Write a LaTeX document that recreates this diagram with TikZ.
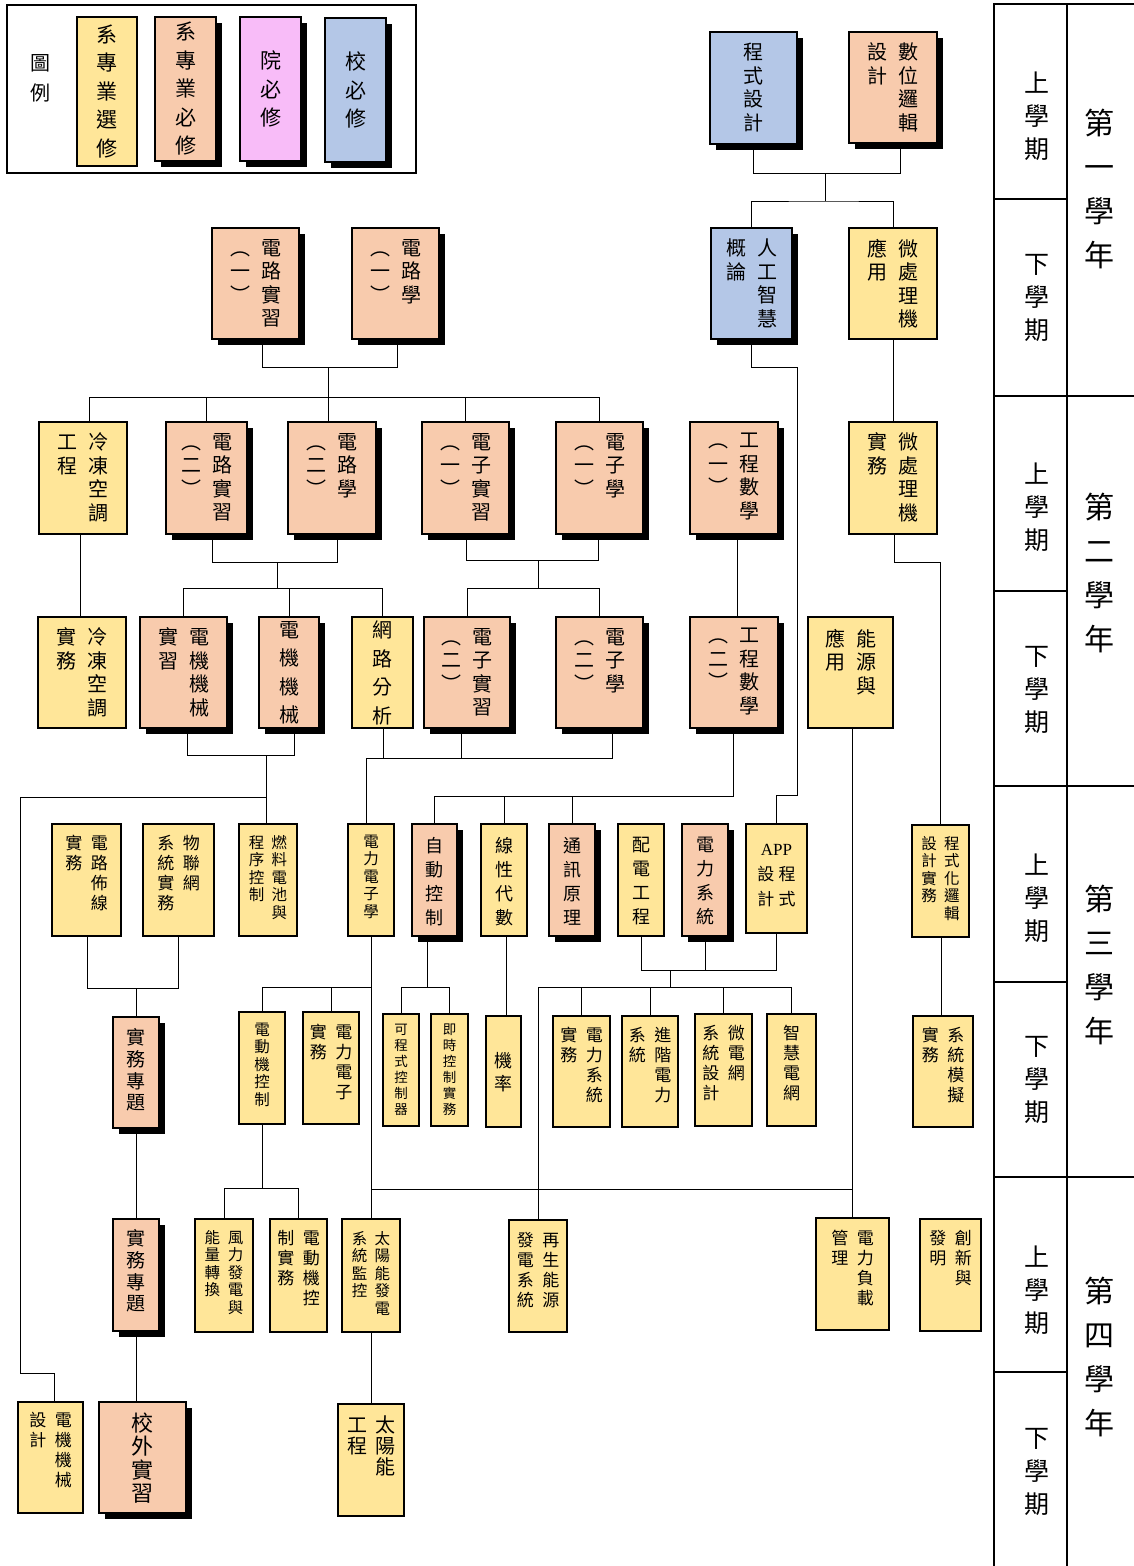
\documentclass[tikz,border=0pt]{standalone}
\usepackage{fontspec}
\setmainfont{Liberation Serif}
\newfontfamily\cjk{Noto Sans CJK TC}
\usetikzlibrary{backgrounds,shadows}
\definecolor{cY}{RGB}{255,230,153}
\definecolor{cO}{RGB}{248,203,173}
\definecolor{cB}{RGB}{180,199,231}
\definecolor{cP}{RGB}{248,188,248}
\makeatletter
\newcommand\vcol[1]{\vtop{\@tfor\vc@ch:=#1\do{\hbox to 1em{\hss\vc@ch\hss}}}}
\makeatother
\newcommand\two[3][0.55em]{\vcol{#3}\hskip#1\relax\vcol{#2}}
\newcommand\bx[3]{\vbox to #1pt{\vskip #2pt\hbox{#3}\vss}}
\tikzset{
  box/.style={draw=black, line width=1.4pt, inner sep=0pt, font=\cjk},
  shd/.style={general shadow={fill=black, shadow xshift=6pt, shadow yshift=-6pt}},
  yel/.style={box, fill=cY},
  org/.style={box, fill=cO, shd},
  blu/.style={box, fill=cB, shd},
  pnk/.style={box, fill=cP, shd},
  bw/.style={minimum width=#1pt},
  fA/.style={font=\cjk\fontsize{20}{23.5}\selectfont},
  fB/.style={font=\cjk\fontsize{17}{20}\selectfont},
  fC/.style={font=\cjk\fontsize{15.5}{17.5}\selectfont},
  fD/.style={font=\cjk\fontsize{13.5}{16}\selectfont},
  fE/.style={font=\cjk\fontsize{18}{24}\selectfont},
  fW/.style={font=\cjk\fontsize{20}{28.5}\selectfont},
  fP/.style={font=\cjk\fontsize{19}{21.7}\selectfont},
  fI/.style={font=\cjk\fontsize{22}{23.3}\selectfont},
  fS/.style={font=\cjk\fontsize{20}{21}\selectfont},
  ln/.style={line width=1pt, draw=black},
  tbl/.style={line width=1.2pt, draw=black},
  sem/.style={font=\cjk\fontsize{25}{33}\selectfont, inner sep=0pt},
  yr/.style={font=\cjk\fontsize{30}{44}\selectfont, inner sep=0pt},
}
\begin{document}
\begin{tikzpicture}[x=1pt,y=-1pt]
\useasboundingbox (0,0) rectangle (1134,1566);

% ---------- legend ----------
\draw[tbl] (7,5) rectangle (416,173);
\node[font=\cjk\fontsize{20}{30}\selectfont, inner sep=0pt] (lgt) at (40,78) {\vcol{圖例}};
\node[yel, font=\cjk\fontsize{21}{28.5}\selectfont, minimum width=60pt, minimum height=149pt] (lg1) at (107,91.5) {\vcol{系專業選修}};
\node[org, font=\cjk\fontsize{21}{28.5}\selectfont, minimum width=61pt, minimum height=144pt] (lg2) at (185.5,89) {\vcol{系專業必修}};
\node[pnk, font=\cjk\fontsize{21}{28.5}\selectfont, minimum width=61pt, minimum height=144pt] (lg3) at (270.5,89) {\vcol{院必修}};
\node[blu, font=\cjk\fontsize{21}{28.5}\selectfont, minimum width=61pt, minimum height=144pt] (lg4) at (355.5,90) {\vcol{校必修}};

% ---------- right table ----------
\draw[tbl] (994,1566) -- (994,4) -- (1134,4);
\draw[tbl] (1067,4) -- (1067,1566);
\foreach \yy in {396,786,1177} \draw[tbl] (994,\yy) -- (1134,\yy);
\foreach \yy in {199,591,982,1372} \draw[tbl] (994,\yy) -- (1067,\yy);
\node[sem] (s1) at (1037,116) {\vcol{上學期}};
\node[sem] (s2) at (1037,298) {\vcol{下學期}};
\node[sem] (s3) at (1037,507) {\vcol{上學期}};
\node[sem] (s4) at (1037,690) {\vcol{下學期}};
\node[sem] (s5) at (1037,898) {\vcol{上學期}};
\node[sem] (s6) at (1037,1080) {\vcol{下學期}};
\node[sem] (s7) at (1037,1290) {\vcol{上學期}};
\node[sem] (s8) at (1037,1472) {\vcol{下學期}};
\node[yr] (y1) at (1099,189) {\vcol{第一學年}};
\node[yr] (y2) at (1099,573) {\vcol{第二學年}};
\node[yr] (y3) at (1099,965) {\vcol{第三學年}};
\node[yr] (y4) at (1099,1357) {\vcol{第四學年}};

% ---------- year 1 ----------
\node[blu,fA,bw=87] (prog) at (753.5,88) {\bx{112}{11}{\vcol{程式設計}}};
\node[org,fA,bw=88] (dig) at (893,87.5) {\bx{111}{11}{\two{數位邏輯}{設計}}};
\node[blu,fA,bw=81] (ai) at (751.5,283.5) {\bx{111}{11}{\two{人工智慧}{概論}}};
\node[yel,fA,bw=88] (mpa) at (893,283.5) {\bx{111}{11}{\two{微處理機}{應用}}};
\node[org,fA,bw=87] (ck1) at (255.5,283.5) {\bx{111}{11}{\two{電路實習}{︵一︶}}};
\node[org,fA,bw=87] (cl1) at (395.5,283.5) {\bx{111}{11}{\two{電路學}{︵一︶}}};

% ---------- year 2 upper ----------
\node[yel,fA,bw=88] (ce) at (83,478) {\bx{112}{11}{\two{冷凍空調}{工程}}};
\node[org,fA,bw=81] (ck2) at (206.5,478) {\bx{112}{11}{\two{電路實習}{︵二︶}}};
\node[org,fA,bw=88] (cl2) at (332,478) {\bx{112}{11}{\two{電路學}{︵二︶}}};
\node[org,fA,bw=87] (ek1) at (465.5,478) {\bx{112}{11}{\two{電子實習}{︵一︶}}};
\node[org,fA,bw=87] (el1) at (599.5,478) {\bx{112}{11}{\two{電子學}{︵一︶}}};
\node[org,fA,bw=88] (em1) at (734,478) {\bx{112}{11}{\two{工程數學}{︵一︶}}};
\node[yel,fA,bw=88] (mpp) at (893,478) {\bx{112}{11}{\two{微處理機}{實務}}};

% ---------- year 2 lower ----------
\node[yel,fA,bw=88] (cp) at (82,672.5) {\bx{111}{11}{\two{冷凍空調}{實務}}};
\node[org,fA,bw=87] (mmp) at (183.5,672.5) {\bx{111}{11}{\two{電機機械}{實習}}};
\node[org,fW,bw=60] (mm) at (289,672.5) {\bx{111}{4}{\vcol{電機機械}}};
\node[yel,fW,bw=61] (na) at (382.5,672.5) {\bx{111}{4}{\vcol{網路分析}}};
\node[org,fA,bw=86] (ek2) at (467,672.5) {\bx{111}{11}{\two{電子實習}{︵二︶}}};
\node[org,fA,bw=87] (el2) at (599.5,672.5) {\bx{111}{11}{\two{電子學}{︵二︶}}};
\node[org,fA,bw=88] (em2) at (734,672.5) {\bx{111}{11}{\two{工程數學}{︵二︶}}};
\node[yel,fA,bw=85] (eu) at (850.5,672.5) {\bx{111}{12}{\two{能源與}{應用}}};

% ---------- year 3 upper ----------
\node[yel,fB,bw=69] (cw) at (86.5,880) {\bx{112}{11}{\two[0.5em]{電路佈線}{實務}}};
\node[yel,fB,bw=71] (iot) at (178.5,880) {\bx{112}{11}{\two[0.5em]{物聯網}{系統實務}}};
\node[yel,fC,bw=58] (fc) at (268,880) {\bx{112}{11}{\two[0.48em]{燃料電池與}{程序控制}}};
\node[yel,fC,bw=46] (pe) at (371,880) {\bx{112}{11}{\vcol{電力電子學}}};
\node[org,fE,bw=45] (ac) at (434.5,880) {\bx{112}{13}{\vcol{自動控制}}};
\node[yel,fE,bw=46] (la) at (504,880) {\bx{112}{13}{\vcol{線性代數}}};
\node[org,fE,bw=46] (cpr) at (572,880) {\bx{112}{13}{\vcol{通訊原理}}};
\node[yel,fE,bw=46] (dist) at (641,880) {\bx{112}{13}{\vcol{配電工程}}};
\node[org,fE,bw=46] (ps) at (705,880) {\bx{112}{13}{\vcol{電力系統}}};
\node[yel,font=\cjk\fontsize{17}{25}\selectfont,bw=61] (app) at (776.5,878.5)
  {\bx{109}{20}{\vtop{\hbox to 50pt{\hss\rmfamily APP\hss}\hbox to 50pt{\hss\two[0.25em]{程式}{設計}\hss}}}};
\node[yel,fC,bw=57] (plc) at (940.5,881) {\bx{112}{11}{\two[0.48em]{程式化邏輯}{設計實務}}};

% ---------- year 3 lower ----------
\node[org,fP,bw=46] (pj1) at (136,1072.5) {\bx{111}{11.5}{\vcol{實務專題}}};
\node[yel,fC,bw=46] (emc) at (262,1068) {\bx{112}{11}{\vcol{電動機控制}}};
\node[yel,fB,bw=56] (pep) at (331,1068) {\bx{112}{12}{\two[0.5em]{電力電子}{實務}}};
\node[yel,fD,bw=36] (plc2) at (401,1070) {\bx{112}{10}{\vcol{可程式控制器}}};
\node[yel,fD,bw=37] (rt) at (449.5,1070) {\bx{112}{10}{\vcol{即時控制實務}}};
\node[yel,font=\cjk\fontsize{18}{23}\selectfont,bw=35] (pr) at (503.5,1071.5) {\bx{111}{36}{\vcol{機率}}};
\node[yel,fB,bw=57] (psp) at (581.5,1071.5) {\bx{111}{11}{\two[0.5em]{電力系統}{實務}}};
\node[yel,fB,bw=56] (aps) at (650,1071.5) {\bx{111}{11}{\two[0.5em]{進階電力}{系統}}};
\node[yel,fB,bw=57] (mg) at (723.5,1070) {\bx{112}{11}{\two[0.5em]{微電網}{系統設計}}};
\node[yel,fB,bw=49] (sg) at (791.5,1070) {\bx{112}{11}{\vcol{智慧電網}}};
\node[yel,fB,bw=60] (sim) at (943,1071.5) {\bx{111}{11}{\two[0.5em]{系統模擬}{實務}}};

% ---------- year 4 upper ----------
\node[org,fP,bw=46] (pj2) at (136,1275) {\bx{112}{10.5}{\vcol{實務專題}}};
\node[yel,fC,bw=58] (wind) at (224,1275.5) {\bx{113}{11}{\two[0.5em]{風力發電與}{能量轉換}}};
\node[yel,fB,bw=57] (emcp) at (298.5,1275.5) {\bx{113}{11}{\two[0.5em]{電動機控}{制實務}}};
\node[yel,fC,bw=58] (spm) at (371,1275.5) {\bx{113}{12}{\two[0.48em]{太陽能發電}{系統監控}}};
\node[yel,fB,bw=58] (rg) at (538,1276) {\bx{112}{12}{\two[0.5em]{再生能源}{發電系統}}};
\node[yel,fB,bw=73] (plm) at (852.5,1274) {\bx{112}{12}{\two[0.5em]{電力負載}{管理}}};
\node[yel,fB,bw=61] (inv) at (950.5,1275) {\bx{112}{11}{\two[0.5em]{創新與}{發明}}};

% ---------- year 4 lower ----------
\node[yel,fB,bw=65] (mmd) at (50.5,1457.5) {\bx{111}{10}{\two[0.5em]{電機機械}{設計}}};
\node[org,fI,bw=87] (intern) at (142.5,1457.5) {\bx{111}{11}{\vcol{校外實習}}};
\node[yel,fS,bw=66] (se) at (371,1460) {\bx{112}{12}{\two[0.4em]{太陽能}{工程}}};

% ---------- connectors ----------
\begin{pgfonlayer}{background}
% year 1
\draw[ln] (prog.south) |- (900,173) -- (900,0 |- dig.south);
\draw[ln] (825,173) -- (825,201);
\draw[ln] (ai.north) |- (825,201) -| (mpa.north);
\draw[ln] (ai.south) |- (797,367) |- (app.north |- 0,795) -- (app.north);
\draw[ln] (mpa.south) -- (mpp.north);
\draw[ln] (262,0 |- ck1.south) |- (397,367) -- (397,0 |- cl1.south);
\draw[ln] (328,367) -- (328,0 |- cl2.north);
\draw[ln] (89,0 |- ce.north) -- (89,397) -| (el1.north);
\draw[ln] (ck2.north) -- (ck2.north |- 0,397);
\draw[ln] (ek1.north) -- (ek1.north |- 0,397);
% year 2
\draw[ln] (80,0 |- ce.south) -- (80,0 |- cp.north);
\draw[ln] (212,0 |- ck2.south) |- (337,562) -- (337,0 |- cl2.south);
\draw[ln] (277,562) -- (277,588);
\draw[ln] (mmp.north) |- (na.north |- 0,588) -- (na.north);
\draw[ln] (mm.north) -- (mm.north |- 0,588);
\draw[ln] (466,0 |- ek1.south) |- (598,560) -- (598,0 |- el1.south);
\draw[ln] (538,560) -- (538,588);
\draw[ln] (ek2.north) |- (el2.north |- 0,588) -- (el2.north);
\draw[ln] (737,0 |- em1.south) -- (737,0 |- em2.north);
\draw[ln] (894,0 |- mpp.south) |- (plc.north |- 0,562) -- (plc.north);
% year 2 lower -> year 3
\draw[ln] (187,0 |- mmp.south) |- (294,755) -- (294,0 |- mm.south);
\draw[ln] (266,755) -- (266,0 |- fc.north);
\draw[ln] (266,797) -| (20,1373) -| (54,0 |- mmd.north);
\draw[ln] (383,0 |- na.south) -- (383,758);
\draw[ln] (366,0 |- pe.north) |- (612,758) -- (612,0 |- el2.south);
\draw[ln] (461,0 |- ek2.south) -- (461,758);
\draw[ln] (733,0 |- em2.south) |- (ac.north |- 0,796) -- (ac.north);
\draw[ln] (la.north) -- (la.north |- 0,796);
\draw[ln] (cpr.north) -- (cpr.north |- 0,796);
\draw[ln] (852,0 |- eu.south) -- (852,0 |- plm.north);
\draw[ln] (pe.south) -- (spm.north);
\draw[ln] (371,1189) -- (852,1189);
% year 3
\draw[ln] (87,0 |- cw.south) |- (178,988) -- (178,0 |- iot.south);
\draw[ln] (pj1.north) -- (pj1.north |- 0,988);
\draw[ln] (emc.north) |- (pe.south |- 0,987);
\draw[ln] (pep.north) -- (pep.north |- 0,987);
\draw[ln] (427,0 |- ac.south) -- (427,987);
\draw[ln] (plc2.north) |- (rt.north |- 0,987) -- (rt.north);
\draw[ln] (506,0 |- la.south) -- (506,0 |- pr.north);
\draw[ln] (dist.south) |- (app.south |- 0,970) -- (app.south);
\draw[ln] (ps.south) -- (ps.south |- 0,970);
\draw[ln] (670,970) -- (670,987);
\draw[ln] (rg.north) |- (sg.north |- 0,987) -- (sg.north);
\draw[ln] (psp.north) -- (psp.north |- 0,987);
\draw[ln] (aps.north) -- (aps.north |- 0,987);
\draw[ln] (mg.north) -- (mg.north |- 0,987);
\draw[ln] (941,0 |- plc.south) -- (941,0 |- sim.north);
% year 3 lower -> year 4
\draw[ln] (pj1.south) -- (pj2.north);
\draw[ln] (emc.south) |- (emcp.north |- 0,1188) -- (emcp.north);
\draw[ln] (wind.north) |- (emc.south |- 0,1188);
\draw[ln] (pj2.south) -- (pj2.south |- intern.north);
\draw[ln] (spm.south) -- (se.north);
\end{pgfonlayer}
\end{tikzpicture}
\end{document}
